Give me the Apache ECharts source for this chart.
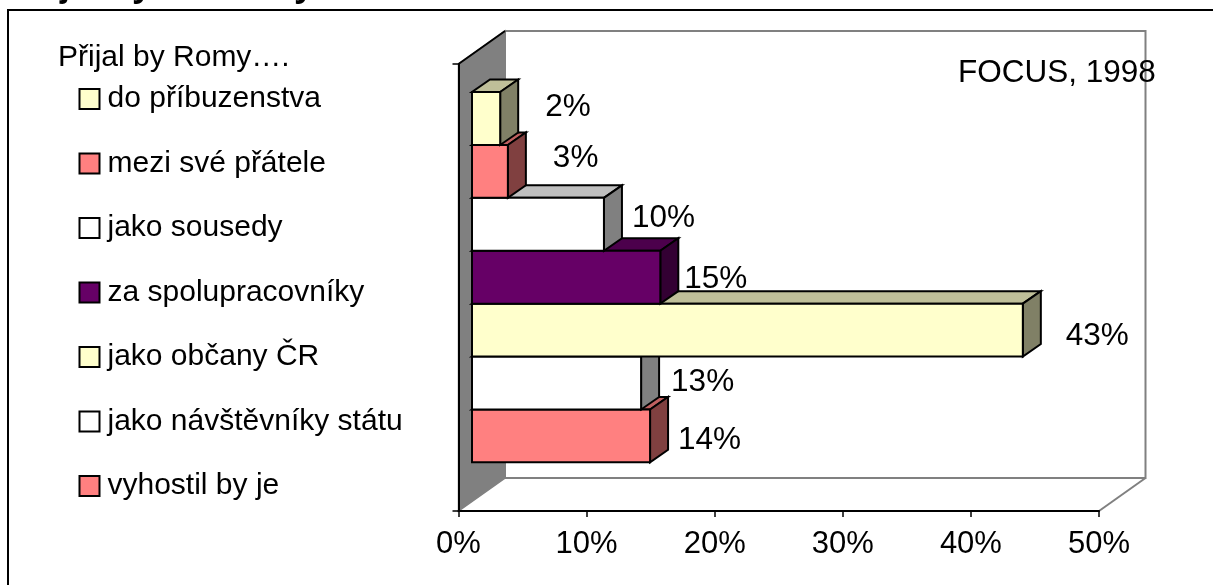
<!DOCTYPE html>
<html>
<head>
<meta charset="utf-8">
<style>html,body{margin:0;padding:0;background:#fff}#c{width:1213px;height:585px}</style>
<script src="https://cdn.jsdelivr.net/npm/echarts@6/dist/echarts.min.js"></script>
</head>
<body>
<div id="c"></div>
<script>
const categories = ['do příbuzenstva','mezi své přátele','jako sousedy','za spolupracovníky','jako občany ČR','jako návštěvníky státu','vyhostil by je'];
const values = [2.2,2.8,10.3,14.7,43,13.2,13.9];
const valueLabels = ['2%','3%','10%','15%','43%','13%','14%'];
const faceColors = ['#FFFFCC','#FF8080','#FFFFFF','#660066','#FFFFCC','#FFFFFF','#FF8080'];
const topColors = ['#BFBF99','#BF6060','#BFBFBF','#4C004C','#BFBF99','#BFBFBF','#BF6060'];
const sideColors = ['#808066','#804040','#808080','#330033','#808066','#808080','#804040'];
const axisTicks = [0,10,20,30,40,50];

const FONT = '"Liberation Sans", Arial, sans-serif';
const labelShiftX = [27,27,10,6,25,12,10];
const labelShiftY = [-10.7,-13,-5.5,2.5,6,-1,4];
const wallDX = 46.5, wallDY = -33, barDX = 18, barDY = -12.5;
const startX = 13.5, clusterShare = 370.3/447, clusterShift = -10.3;

function barBox(api, i, v){
  const c = api.coord([0,0]);
  const band = api.size([0,1])[1];
  const total = band*clusterShare, h = total/categories.length;
  const top = c[1]-total/2+clusterShift+h*i;
  const x0 = c[0]+startX;
  return {x0, x1:x0+api.size([v,0])[0], top, bot:top+h};
}
const poly = (points, fill, stroke, lw) => ({type:'polygon',shape:{points},style:{fill,stroke,lineWidth:lw,lineJoin:'miter'}});
const line = (a,b,stroke,lw) => ({type:'line',shape:{x1:a[0],y1:a[1],x2:b[0],y2:b[1]},style:{stroke,lineWidth:lw}});

const barSeries = categories.map((name,i)=>({
  type:'custom', name, z:20-i,
  coordinateSystem:'cartesian2d',
  itemStyle:{color:faceColors[i]},
  data:[[values[i],0]],
  silent:true,
  renderItem(p,api){
    const b = barBox(api,i,api.value(0));
    return {type:'group',children:[
      poly([[b.x0,b.top],[b.x1,b.top],[b.x1+barDX,b.top+barDY],[b.x0+barDX,b.top+barDY]],topColors[i],'#000',2),
      poly([[b.x1,b.top],[b.x1+barDX,b.top+barDY],[b.x1+barDX,b.bot+barDY],[b.x1,b.bot]],sideColors[i],'#000',2),
      {type:'rect',shape:{x:b.x0,y:b.top,width:b.x1-b.x0,height:b.bot-b.top},style:{fill:faceColors[i],stroke:'#000',lineWidth:2}}
    ]};
  }
}));

const wallSeries = {
  type:'custom', name:'walls', z:1, silent:true,
  coordinateSystem:'cartesian2d',
  data:[[0,0]],
  renderItem(p,api){
    const c = api.coord([0,0]), band = api.size([0,1])[1];
    const x0 = c[0], x1 = api.coord([50,0])[0], t = c[1]-band/2, b = c[1]+band/2;
    const bl=[x0+wallDX,b+wallDY], br=[x1+wallDX,b+wallDY], tl=[x0+wallDX,t+wallDY], tr=[x1+wallDX,t+wallDY];
    return {type:'group',children:[
      poly([tl,tr,br,bl],'#fff','#808080',2),
      poly([[x0,t],tl,bl,[x0,b]],'#808080','#808080',1.5),
      line([x1,b],br,'#808080',2),
      line([x0,t],tl,'#000',2)
    ]};
  }
};

const labelSeries = {
  type:'custom', name:'labels', z:40, silent:true,
  coordinateSystem:'cartesian2d',
  data:values.map(v=>[v,0]),
  renderItem(p,api){
    const i = p.dataIndex, b = barBox(api,i,api.value(0));
    return {type:'text',style:{
      text:valueLabels[i],
      x:b.x1+barDX+labelShiftX[i],
      y:(b.top+b.bot)/2+labelShiftY[i],
      verticalAlign:'middle',align:'left',
      font:'31.5px '+FONT,fill:'#000'
    }};
  }
};

const chart = echarts.init(document.getElementById('c'),null,{renderer:'canvas'});
chart.setOption({
  animation:false,
  backgroundColor:'#fff',
  grid:{left:458.5,right:114,top:64,bottom:74,containLabel:false},
  xAxis:{type:'value',min:0,max:50,interval:10,z:5,splitLine:{show:false},
    axisLine:{show:true,onZero:false,lineStyle:{color:'#000',width:2}},
    axisTick:{show:true,length:6,lineStyle:{color:'#000',width:1.5}},
    axisLabel:{margin:18,fontSize:31,fontFamily:FONT,color:'#000',formatter:'{value}%',hideOverlap:false,showMinLabel:true,showMaxLabel:true}},
  yAxis:{type:'category',data:['Přijal by Romy'],z:5,
    axisLine:{show:true,lineStyle:{color:'#000',width:2}},
    axisTick:{show:true,length:6,lineStyle:{color:'#000',width:1.5}},
    axisLabel:{show:false},splitLine:{show:false}},
  legend:{show:true,orient:'vertical',left:78.5,top:82,padding:0,icon:'rect',itemWidth:20,itemHeight:20,itemGap:30.5,
    data:categories,selectedMode:false,
    itemStyle:{borderColor:'#000',borderWidth:2},
    textStyle:{fontSize:30,fontFamily:FONT,color:'#000',padding:[0,0,0,3],lineHeight:34}},
  graphic:[
    {type:'rect',z:0,shape:{x:8,y:10,width:1400,height:800},style:{fill:'none',stroke:'#000',lineWidth:2}},
    {type:'text',z:50,x:12,y:-14,style:{text:'Přijal byste Romy',font:'bold 36px '+FONT,fill:'#000',verticalAlign:'middle'}},
    {type:'text',z:50,x:58,y:58,style:{text:'Přijal by Romy….',font:'30px '+FONT,fill:'#000',verticalAlign:'middle'}},
    {type:'text',z:50,x:958,y:73.5,style:{text:'FOCUS, 1998',font:'31.5px '+FONT,fill:'#000',verticalAlign:'middle'}}
  ],
  series:[wallSeries,...barSeries,labelSeries]
});
</script>
</body>
</html>
